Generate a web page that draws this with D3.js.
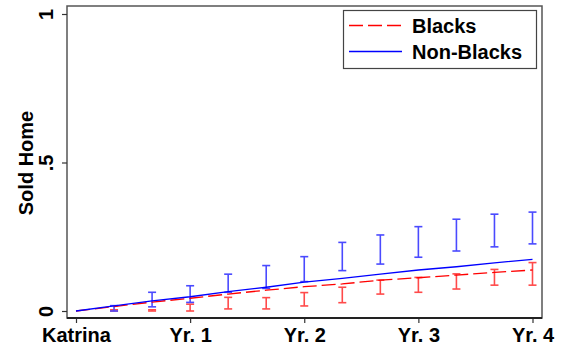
<!DOCTYPE html>
<html>
<head>
<meta charset="utf-8">
<script src="https://cdn.jsdelivr.net/npm/d3@7"></script>
<style>
  body { margin: 0; background: #fff; }
  svg { display: block; font-family: "Liberation Sans", Arial, sans-serif; font-weight: bold; }
</style>
</head>
<body>
<svg width="565" height="349"></svg>
<script>
// periods of 4 months after Katrina (0..12 = 4 years)
const periods = [0, 1, 2, 3, 4, 5, 6, 7, 8, 9, 10, 11, 12];
const xTickVals = [0, 3, 6, 9, 12];
const xTickLabels = ["Katrina", "Yr. 1", "Yr. 2", "Yr. 3", "Yr. 4"];
const yTickVals = [0, 0.5, 1];
const yTickLabels = ["0", ".5", "1"];

// fitted lines
const blackLine = [0, 0.015, 0.030, 0.043, 0.057, 0.070, 0.082, 0.091, 0.104, 0.112, 0.121, 0.130, 0.138];
const nonBlackLine = [0, 0.017, 0.034, 0.048, 0.065, 0.080, 0.097, 0.110, 0.124, 0.138, 0.149, 0.162, 0.174];

// confidence intervals (periods 1..12)
const blackLo = [0.000, 0.000, 0.000, 0.007, 0.007, 0.017, 0.028, 0.057, 0.063, 0.074, 0.087, 0.087];
const blackHi = [0.004, 0.004, 0.023, 0.046, 0.045, 0.062, 0.080, 0.104, 0.113, 0.125, 0.140, 0.163];
const nonBlackLo = [0.000, 0.014, 0.029, 0.063, 0.076, 0.099, 0.136, 0.158, 0.181, 0.202, 0.216, 0.226];
const nonBlackHi = [0.018, 0.063, 0.085, 0.124, 0.153, 0.183, 0.231, 0.256, 0.284, 0.309, 0.326, 0.333];

const svg = d3.select("svg");

const frame = { left: 67, right: 542, top: 6, bottom: 318 };

const x = d3.scaleLinear().domain([0, 12]).range([76, 532.5]);
const y = d3.scaleLinear().domain([0, 1]).range([311, 14]);

// plot frame
svg.append("rect")
  .attr("x", frame.left).attr("y", frame.top)
  .attr("width", frame.right - frame.left).attr("height", frame.bottom - frame.top)
  .attr("fill", "#fff").attr("stroke", "#555").attr("stroke-width", 1.5);

// y axis
const yAxis = svg.append("g").attr("transform", `translate(${frame.left},0)`)
  .call(d3.axisLeft(y).tickValues(yTickVals).tickSize(5).tickFormat(""));
yAxis.select(".domain").remove();
yAxis.selectAll("line").attr("stroke", "#333").attr("stroke-width", 1.2);
yAxis.selectAll(".tick").append("text")
  .attr("transform", "translate(-14,0) rotate(-90)")
  .attr("text-anchor", "middle")
  .attr("fill", "#000")
  .attr("font-size", 20)
  .text((d, i) => yTickLabels[i]);

// x axis
const xAxis = svg.append("g").attr("transform", `translate(0,${frame.bottom})`)
  .call(d3.axisBottom(x).tickValues(xTickVals).tickSize(5).tickFormat(""));
xAxis.select(".domain").remove();
xAxis.selectAll("line").attr("stroke", "#333").attr("stroke-width", 1.2);
xAxis.selectAll(".tick").append("text")
  .attr("y", 23.5)
  .attr("text-anchor", "middle")
  .attr("fill", "#000")
  .attr("font-size", 20)
  .text((d, i) => xTickLabels[i]);

// bottom spine darker
svg.append("line")
  .attr("x1", frame.left).attr("x2", frame.right)
  .attr("y1", frame.bottom).attr("y2", frame.bottom)
  .attr("stroke", "#222").attr("stroke-width", 2);

// y title
svg.append("text")
  .attr("transform", "translate(33,163) rotate(-90)")
  .attr("text-anchor", "middle")
  .attr("font-size", 20)
  .text("Sold Home");

// error bars
function errorBars(lo, hi, color) {
  const g = svg.append("g").attr("stroke", color).attr("stroke-width", 1.6);
  const data = lo.map((l, i) => ({ p: periods[i + 1], lo: l, hi: hi[i] }));
  g.selectAll(".v").data(data).enter().append("line")
    .attr("x1", d => x(d.p)).attr("x2", d => x(d.p))
    .attr("y1", d => y(d.lo)).attr("y2", d => y(d.hi));
  g.selectAll(".t").data(data).enter().append("line")
    .attr("x1", d => x(d.p) - 4).attr("x2", d => x(d.p) + 4)
    .attr("y1", d => y(d.hi)).attr("y2", d => y(d.hi));
  g.selectAll(".b").data(data).enter().append("line")
    .attr("x1", d => x(d.p) - 4).attr("x2", d => x(d.p) + 4)
    .attr("y1", d => y(d.lo)).attr("y2", d => y(d.lo));
}
errorBars(blackLo, blackHi, "#ff4a4a");
errorBars(nonBlackLo, nonBlackHi, "#4a4aff");

// lines
const line = d3.line().x((d, i) => x(periods[i])).y(d => y(d));
svg.append("path").datum(blackLine).attr("d", line)
  .attr("fill", "none").attr("stroke", "#ff0000").attr("stroke-width", 1.3)
  .attr("stroke-dasharray", "14,5");
svg.append("path").datum(nonBlackLine).attr("d", line)
  .attr("fill", "none").attr("stroke", "#0000ff").attr("stroke-width", 1.3);

// legend
const legend = svg.append("g");
legend.append("rect")
  .attr("x", 343.5).attr("y", 10.5).attr("width", 193).attr("height", 58)
  .attr("fill", "#fff").attr("stroke", "#444").attr("stroke-width", 1.2);
const legendItems = [
  { label: "Blacks", color: "#ff0000", dash: "14,5", y: 25.5 },
  { label: "Non-Blacks", color: "#0000ff", dash: null, y: 51.5 }
];
legendItems.forEach(d => {
  legend.append("line")
    .attr("x1", 349).attr("x2", 402).attr("y1", d.y).attr("y2", d.y)
    .attr("stroke", d.color).attr("stroke-width", 1.3)
    .attr("stroke-dasharray", d.dash);
  legend.append("text")
    .attr("x", 412).attr("y", d.y + 7.5)
    .attr("font-size", 20)
    .text(d.label);
});
</script>
</body>
</html>
